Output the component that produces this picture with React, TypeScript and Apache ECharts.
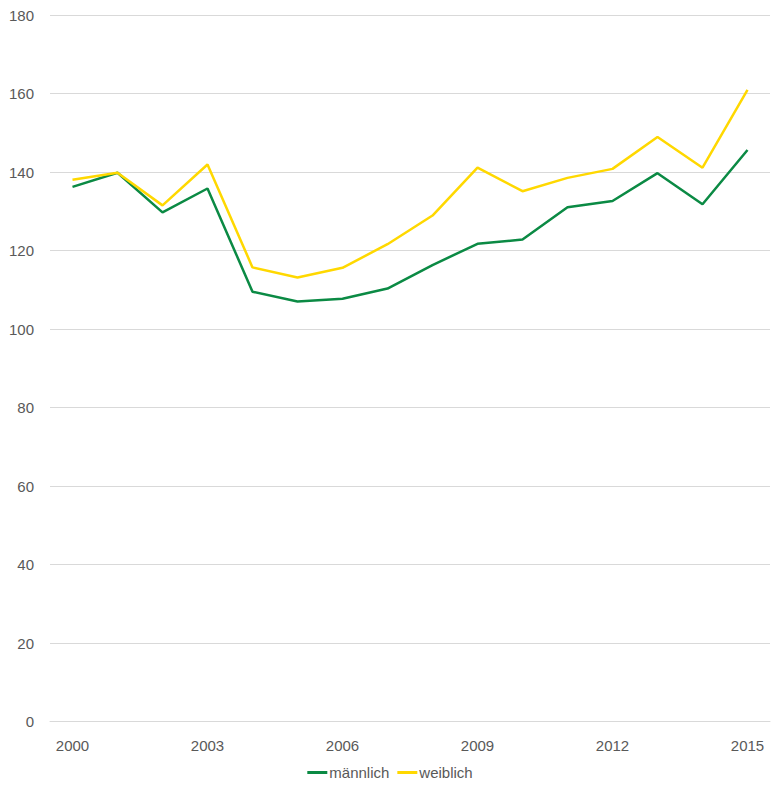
import React, { useEffect, useRef } from "react";
import * as echarts from "echarts";

const years = ["2000","2001","2002","2003","2004","2005","2006","2007","2008","2009","2010","2011","2012","2013","2014","2015"];
const maennlich = [136.2, 139.8, 129.7, 135.8, 109.5, 107.0, 107.7, 110.3, 116.3, 121.7, 122.8, 131.0, 132.6, 139.7, 131.8, 145.6];
const weiblich = [138.0, 139.8, 131.5, 141.9, 115.7, 113.1, 115.6, 121.6, 128.9, 141.1, 135.1, 138.5, 140.8, 148.9, 141.1, 160.9];
const seriesNames = ["männlich", "weiblich"];
const colors = ["#0B8A44", "#FFD800"];

export default function App() {
  const ref = useRef<HTMLDivElement>(null);
  useEffect(() => {
    if (!ref.current) return;
    const chart = echarts.init(ref.current, undefined, { renderer: "svg" });
    const font = "'Liberation Sans', Arial, sans-serif";
    chart.setOption({
      animation: false,
      textStyle: { fontFamily: font },
      grid: { left: 50, right: 10, top: 15, bottom: 71.5 },
      legend: {
        bottom: 8,
        left: "center",
        data: seriesNames,
        icon: "rect",
        itemWidth: 20,
        itemHeight: 3,
        itemGap: 8,
        textStyle: { color: "#595959", fontSize: 15, fontFamily: font, padding: [0, 0, 0, -3] },
      },
      xAxis: {
        type: "category",
        data: years,
        boundaryGap: true,
        axisTick: { show: false },
        axisLine: { lineStyle: { color: "#D9D9D9", width: 1 } },
        axisLabel: { interval: 2, color: "#595959", fontSize: 15, margin: 16 },
      },
      yAxis: {
        type: "value",
        min: 0,
        max: 180,
        interval: 20,
        axisLine: { show: false },
        axisTick: { show: false },
        axisLabel: { color: "#595959", fontSize: 15, margin: 16 },
        splitLine: { lineStyle: { color: "#D9D9D9", width: 1 } },
      },
      series: [
        {
          name: seriesNames[0],
          type: "line",
          data: maennlich,
          symbol: "none",
          lineStyle: { color: colors[0], width: 2.5 },
          itemStyle: { color: colors[0] },
        },
        {
          name: seriesNames[1],
          type: "line",
          data: weiblich,
          symbol: "none",
          lineStyle: { color: colors[1], width: 2.5 },
          itemStyle: { color: colors[1] },
        },
      ],
    });
    return () => chart.dispose();
  }, []);
  return (
    <div
      ref={ref}
      style={{ position: "fixed", left: 0, top: 0, width: 780, height: 793, background: "#fff" }}
    />
  );
}
